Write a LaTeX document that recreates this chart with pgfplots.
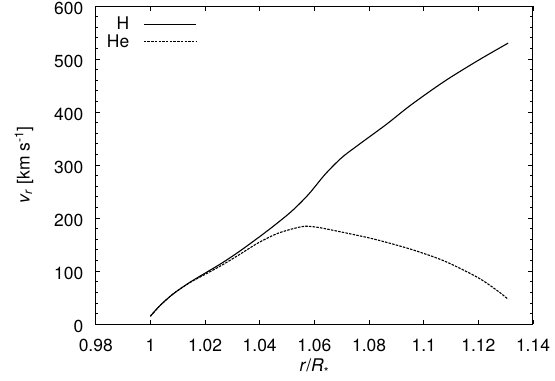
\documentclass[border=0pt]{standalone}
\usepackage{pgfplots}
\pgfplotsset{compat=1.18}
\usepackage{fontspec}
\setmainfont{TeX Gyre Heros}
\newcommand{\bigf}{\fontsize{17.5}{20.5}\selectfont}

\begin{document}
\begin{tikzpicture}
\begin{axis}[
  scale only axis,
  width=437bp, height=318bp,
  xmin=0.98, xmax=1.14,
  ymin=0, ymax=600,
  xtick={0.98,1,1.02,1.04,1.06,1.08,1.1,1.12,1.14},
  xticklabels={0.98,1,1.02,1.04,1.06,1.08,1.1,1.12,1.14},
  ytick={0,100,...,600},
  minor y tick num=4,
  tick align=inside,
  major tick length=4.5bp,
  minor tick length=2.5bp,
  axis line style={line width=1bp},
  every tick/.style={black, line width=0.9bp},
  tick label style={font=\bigf},
  label style={font=\bigf},
  /pgf/number format/assume math mode=true,
  xticklabel style={yshift=-11bp},
  yticklabel style={xshift=-9bp, yshift=-2.5bp},
  xlabel={\textit{r}/\textit{R}\textsubscript{\raisebox{-0.15em}{*}}},
  ylabel={\textit{v}\textsubscript{\textit{r}} [km s\textsuperscript{-1}]},
  ylabel style={yshift=14bp},
  xlabel style={yshift=-1bp},
  legend plot pos=right,
  legend cell align=right,
  legend style={at={(0,1)}, anchor=north west, xshift=6bp, yshift=-7bp,
    draw=none, fill=none, row sep=-1bp, column sep=12bp,
    font=\bigf},
  legend image code/.code={\draw[#1] (0bp,0bp) -- (52bp,0bp);},
]
\addplot[black, line width=1.1bp, smooth, tension=0.5] coordinates {
  (1.000,15) (1.0034,34.5) (1.0082,56.6) (1.0143,78.5) (1.0204,97.4)
  (1.0264,116) (1.0325,137) (1.0397,164) (1.0458,188) (1.0519,214)
  (1.0579,245) (1.064,283) (1.070,314) (1.0761,338) (1.0864,377)
  (1.0955,414) (1.1076,458) (1.1198,497) (1.1309,530)
};
\addlegendentry{H}
\addplot[black, line width=1.1bp, dash pattern=on 2.5bp off 1.2bp, smooth, tension=0.5] coordinates {
  (1.000,15) (1.0034,34.5) (1.0082,56.6) (1.0143,78) (1.0204,95)
  (1.0264,112) (1.0325,131) (1.0397,154) (1.047,172) (1.0555,184)
  (1.060,183.5) (1.064,180) (1.0725,171) (1.0822,160) (1.0955,141)
  (1.1076,119) (1.1198,88) (1.127,63) (1.1309,47)
};
\addlegendentry{He}
\end{axis}
\pgfresetboundingbox
\useasboundingbox ([shift={(-95.7bp,-56.7bp)}]current axis.south west)
  rectangle ([shift={(22bp,6bp)}]current axis.north east);
\end{tikzpicture}
\end{document}
